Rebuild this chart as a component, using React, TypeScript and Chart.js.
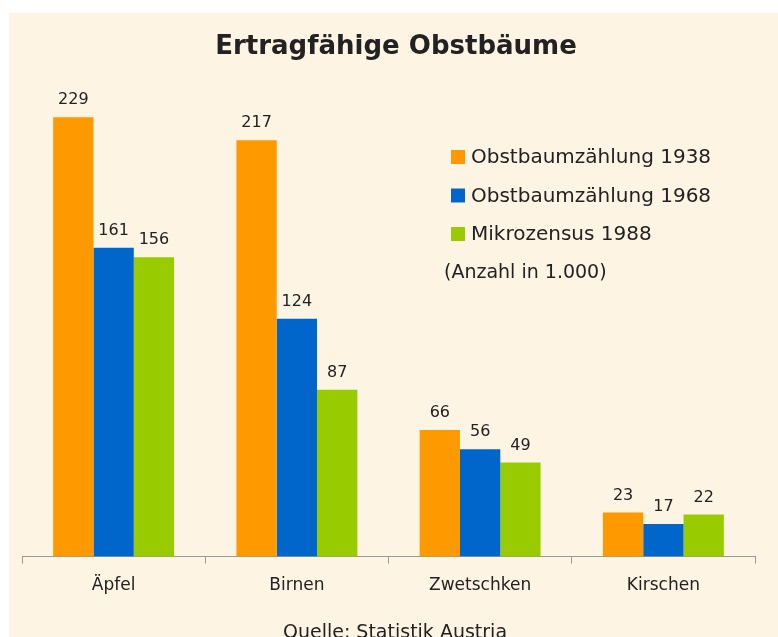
import React, { useEffect, useRef } from "react";
import { Chart, registerables } from "chart.js";

Chart.register(...registerables);

const title = "Ertragfähige Obstbäume";
const categories = ["Äpfel", "Birnen", "Zwetschken", "Kirschen"];
const seriesNames = ["Obstbaumzählung 1938", "Obstbaumzählung 1968", "Mikrozensus 1988"];
const values1938 = [229, 217, 66, 23];
const values1968 = [161, 124, 56, 17];
const values1988 = [156, 87, 49, 22];
const seriesColors = ["#FF9900", "#0066CC", "#99CC00"];
const unitNote = "(Anzahl in 1.000)";
const sourceNote = "Quelle: Statistik Austria";

const FONT = "'DejaVu Sans', Verdana, sans-serif";
const TEXT = "#222222";
const BG = "#FEF4E4";

const W = 769;
const H = 624;

const decorPlugin = {
  id: "decor",
  beforeDraw(chart: any) {
    const ctx = chart.ctx;
    ctx.save();
    ctx.fillStyle = BG;
    ctx.fillRect(0, 0, chart.width, chart.height);
    ctx.restore();
  },
  afterDatasetsDraw(chart: any) {
    const ctx = chart.ctx;
    ctx.save();
    // value labels
    ctx.fillStyle = TEXT;
    ctx.font = `16px ${FONT}`;
    ctx.textAlign = "center";
    ctx.textBaseline = "middle";
    chart.data.datasets.forEach((ds: any, i: number) => {
      const meta = chart.getDatasetMeta(i);
      meta.data.forEach((el: any, j: number) => {
        ctx.fillText(String(ds.data[j]), el.x, el.y - 17);
      });
    });
    // title
    ctx.font = `bold 26px ${FONT}`;
    ctx.fillText(title, 387, 34);
    // legend
    ctx.textAlign = "left";
    ctx.font = `20px ${FONT}`;
    const rows = [144, 182.5, 221];
    chart.data.datasets.forEach((ds: any, i: number) => {
      ctx.fillStyle = ds.backgroundColor;
      ctx.fillRect(442, rows[i] - 7, 14, 14);
      ctx.fillStyle = TEXT;
      ctx.fillText(ds.label, 462, rows[i] + 1);
    });
    ctx.font = `19px ${FONT}`;
    ctx.fillText(unitNote, 435, 260);
    // source
    ctx.textAlign = "center";
    ctx.font = `19px ${FONT}`;
    ctx.fillText(sourceNote, 386, 620);
    ctx.restore();
  },
};

export default function App() {
  const ref = useRef<HTMLCanvasElement | null>(null);
  useEffect(() => {
    if (!ref.current) return;
    const series = [values1938, values1968, values1988];
    const chart = new Chart(ref.current, {
      type: "bar",
      data: {
        labels: categories,
        datasets: series.map((d, i) => ({
          label: seriesNames[i],
          data: d,
          backgroundColor: seriesColors[i],
          borderWidth: 0,
          barPercentage: 1,
          categoryPercentage: 0.66,
        })),
      },
      options: {
        responsive: false,
        animation: false,
        layout: { padding: { top: 64, left: 13, right: 23, bottom: 29 } },
        plugins: {
          legend: { display: false },
          title: { display: false },
          tooltip: { enabled: false },
        },
        scales: {
          x: {
            grid: {
              display: true,
              drawOnChartArea: false,
              drawTicks: true,
              tickLength: 7,
              color: "#9a9a9a",
              offset: true,
            },
            border: { display: true, color: "#9a9a9a", width: 1 },
            ticks: {
              color: TEXT,
              font: { family: FONT, size: 17 },
              padding: 12,
            },
          },
          y: {
            display: false,
            min: 0,
            max: 250,
          },
        },
      },
      plugins: [decorPlugin],
    });
    return () => chart.destroy();
  }, []);
  return (
    <div style={{ position: "absolute", left: 9, top: 13, width: W, height: H, overflow: "hidden" }}>
      <canvas ref={ref} width={W} height={H} style={{ display: "block" }} />
    </div>
  );
}
